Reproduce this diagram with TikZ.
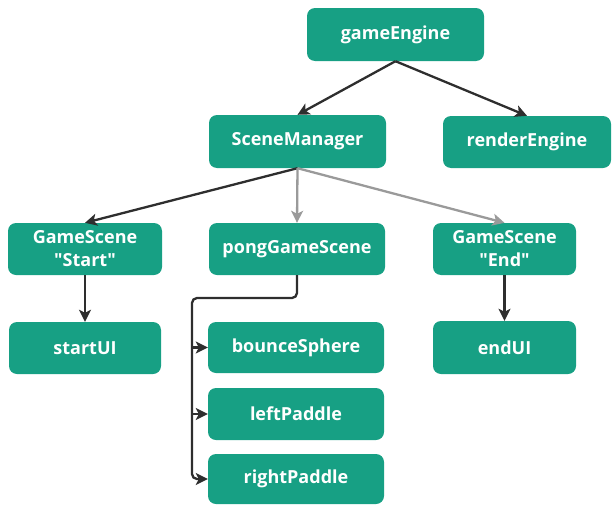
\documentclass[tikz,border=0pt]{standalone}
\usepackage{fontspec}
\setmainfont{Open Sans}[BoldFont={Open Sans Bold}]
\usetikzlibrary{arrows.meta,calc}
\definecolor{boxfill}{HTML}{17A084}
\definecolor{linkdark}{HTML}{2E2E2E}
\definecolor{linkgray}{HTML}{9A9A9A}
\newcommand{\qt}[1]{\textquotedbl#1\textquotedbl}
\tikzset{
  module/.style={draw=none,fill=boxfill,rounded corners=8pt,text=white,
    font=\fontsize{18}{23}\selectfont\bfseries,align=center,inner sep=0pt},
  link/.style={line width=2.3pt,draw=linkdark,
    -{Stealth[length=12pt,width=12pt,inset=3pt]}},
  softlink/.style={link,draw=linkgray},
}
\begin{document}
\begin{tikzpicture}[x=1pt,y=-1pt]
\useasboundingbox (0,0) rectangle (613,506);
% top level
\node[module,minimum width=177pt,minimum height=53pt] (engine) at (395.5,34.5) {gameEngine};
\node[module,minimum width=177pt,minimum height=53pt] (scenes) at (297.5,141.5) {SceneManager};
\node[module,minimum width=168pt,minimum height=52pt] (render) at (527,142) {renderEngine};
% scenes
\node[module,minimum width=154pt,minimum height=52pt] (start) at (85,249) {GameScene\\\qt{Start}};
\node[module,minimum width=176pt,minimum height=52pt] (pong) at (297,249) {pongGameScene};
\node[module,minimum width=143pt,minimum height=52pt] (finish) at (504.5,249) {GameScene\\\qt{End}};
% scene contents
\node[module,minimum width=152pt,minimum height=52pt] (startui) at (85,348) {startUI};
\node[module,minimum width=176pt,minimum height=51pt] (sphere) at (296,347.5) {bounceSphere};
\node[module,minimum width=176pt,minimum height=52pt] (lpad) at (296,414) {leftPaddle};
\node[module,minimum width=176pt,minimum height=50pt] (rpad) at (296,479) {rightPaddle};
\node[module,minimum width=143pt,minimum height=53pt] (endui) at (504.5,347.5) {endUI};
% links
\draw[link] (engine.south) -- (scenes.north);
\draw[link] (engine.south) -- (render.north);
\draw[link] (scenes.south) -- (start.north);
\draw[softlink] (scenes.south) -- (pong.north);
\draw[softlink] (scenes.south) -- (finish.north);
\draw[link] (start.south) -- (startui.north);
\draw[link] (finish.south) -- (endui.north);
% bus from pongGameScene to its objects
\coordinate (bus) at (192,298);
\draw[link,rounded corners=5pt] (pong.south) |- (bus) |- (rpad.west);
\draw[link] (bus |- sphere.west) -- (sphere.west);
\draw[link] (bus |- lpad.west) -- (lpad.west);
\end{tikzpicture}
\end{document}
